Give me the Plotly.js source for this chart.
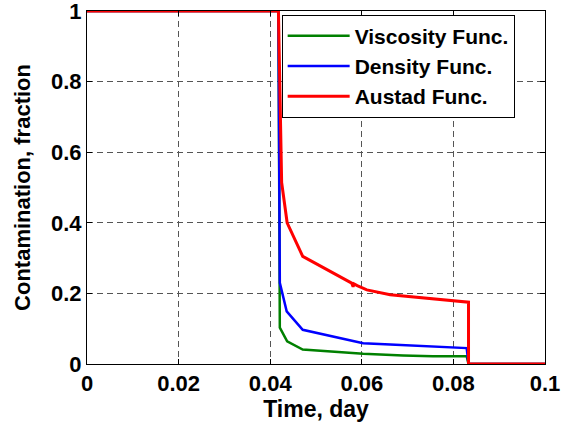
<!DOCTYPE html>
<html>
<head>
<meta charset="utf-8">
<script src="https://cdn.plot.ly/plotly-3.0.1.min.js"></script>
<style>html,body{margin:0;padding:0;background:#fff;}#chart{width:561px;height:423px;}</style>
</head>
<body>
<div id="chart"></div>
<script>
// Viscosity Func.
const viscX = [0, 0.0418, 0.0421, 0.0437, 0.0471, 0.0603, 0.0690, 0.0755, 0.0829, 0.0833, 0.1];
const viscY = [1, 1, 0.103, 0.064, 0.041, 0.029, 0.024, 0.022, 0.022, 0, 0];
// Density Func.
const densX = [0, 0.0418, 0.0421, 0.0436, 0.0471, 0.0581, 0.0603, 0.0662, 0.0829, 0.0833, 0.1];
const densY = [1, 1, 0.230, 0.149, 0.097, 0.064, 0.059, 0.055, 0.045, 0, 0];
// Austad Func.
const austX = [0, 0.0418, 0.0425, 0.0437, 0.0471, 0.0578, 0.0581, 0.0583, 0.0590, 0.0611, 0.0662, 0.0803, 0.0833, 0.0833, 0.1];
const austY = [1, 1, 0.514, 0.400, 0.305, 0.229, 0.219, 0.227, 0.222, 0.210, 0.196, 0.177, 0.175, 0, 0];

const xTicks = [0, 0.02, 0.04, 0.06, 0.08, 0.1];
const xTickLabels = ["0", "0.02", "0.04", "0.06", "0.08", "0.1"];
const yTicks = [0, 0.2, 0.4, 0.6, 0.8, 1];
const yTickLabels = ["0", "0.2", "0.4", "0.6", "0.8", "1"];

const FONT = 'Arial, "Liberation Sans", Helvetica, sans-serif';

const traces = [
  {x: viscX, y: viscY, name: 'Viscosity Func.', mode: 'lines', line: {color: '#008000', width: 2.5}, legendgroup: 'a'},
  {x: densX, y: densY, name: 'Density Func.', mode: 'lines', line: {color: '#0000ff', width: 2.5}, legendgroup: 'b'},
  {x: austX, y: austY, name: 'Austad Func.', mode: 'lines', line: {color: '#ff0000', width: 3}, legendgroup: 'c'}
];

const axisCommon = {
  showline: true, linecolor: '#000', linewidth: 1, mirror: 'allticks',
  ticks: 'inside', ticklen: 5, tickcolor: '#000',
  showgrid: true, gridcolor: '#555', gridwidth: 1, griddash: '6px,4px',
  zeroline: false, ticklabeloverflow: 'allow',
  tickfont: {family: FONT, size: 22, color: '#000', weight: 'bold'}
};

const layout = {
  width: 561, height: 423,
  margin: {l: 87, r: 16, t: 11, b: 59},
  paper_bgcolor: '#fff', plot_bgcolor: '#fff',
  showlegend: true,
  legend: {
    x: 0.425, y: 0.99, xanchor: 'left', yanchor: 'top',
    bgcolor: '#fff', bordercolor: '#000', borderwidth: 1,
    font: {family: FONT, size: 21, color: '#000', weight: 'bold'},
    itemwidth: 62, tracegroupgap: 0
  },
  xaxis: Object.assign({}, axisCommon, {
    range: [0, 0.1], tickvals: xTicks, ticktext: xTickLabels,
    title: {text: 'Time, day', font: {family: FONT, size: 23, color: '#000', weight: 'bold'}, standoff: 1}
  }),
  yaxis: Object.assign({}, axisCommon, {
    range: [0, 1], tickvals: yTicks, ticktext: yTickLabels,
    title: {text: 'Contamination, fraction', font: {family: FONT, size: 22, color: '#000', weight: 'bold'}, standoff: 14}
  })
};

Plotly.newPlot('chart', traces, layout, {displayModeBar: false, staticPlot: true});
</script>
</body>
</html>
